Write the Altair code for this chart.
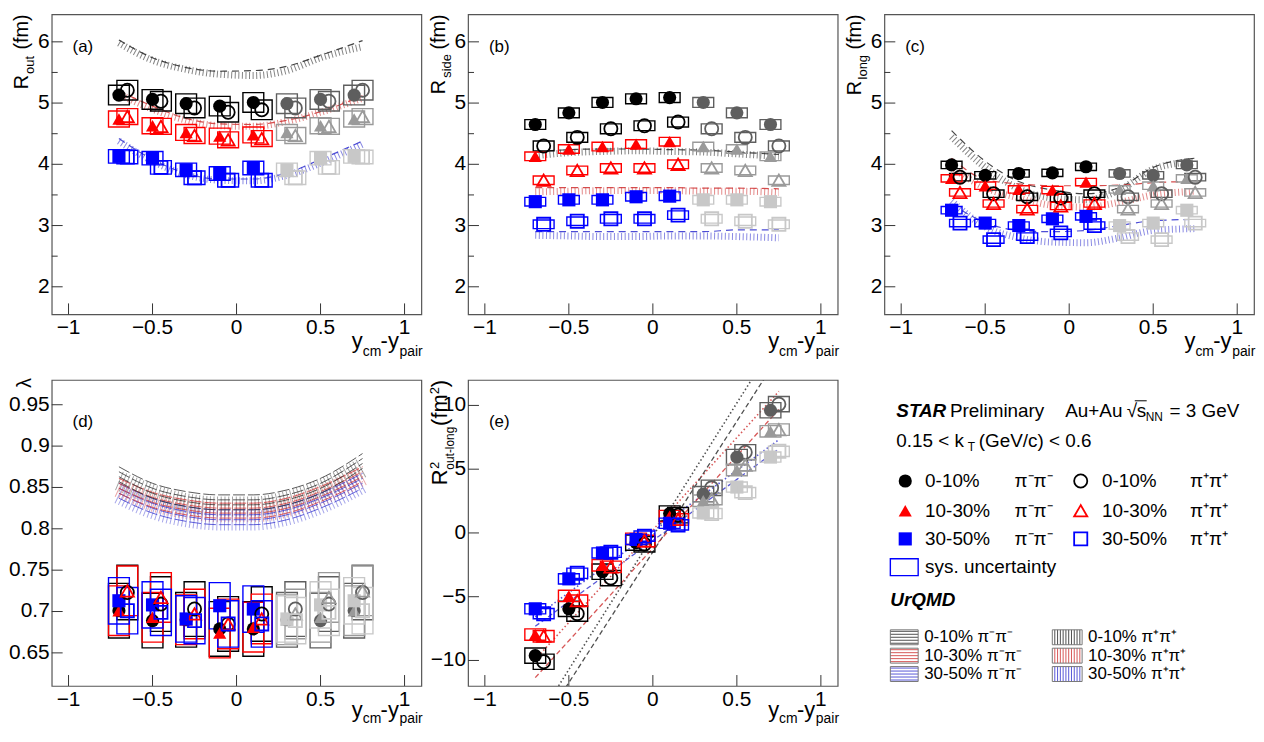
import altair as alt
import pandas as pd

FONT = "Liberation Sans"

# ---------------- rapidity bins ----------------
Y_MM = [-0.7, -0.5, -0.3, -0.1, 0.1, 0.3, 0.5, 0.7]          # pi-pi-
Y_PP = [-0.65, -0.45, -0.25, -0.05, 0.15, 0.35, 0.55, 0.75]  # pi+pi+
N_MEASURED = 5                                                 # the last 3 bins are reflected (grey)
Y_UQ = [-0.7, -0.5, -0.3, -0.1, 0.1, 0.3, 0.5, 0.75]          # UrQMD grid

CENT_LABELS = ["0-10%", "10-30%", "30-50%"]

# axis ticks and labels
X_TICKS = [-1, -0.5, 0, 0.5, 1]
X_TICK_LABELS = ["\u22121", "\u22120.5", "0", "0.5", "1"]
R_TICKS = [2, 3, 4, 5, 6]
R_TICK_LABELS = ["2", "3", "4", "5", "6"]
R_MINOR = [2.5, 3.5, 4.5, 5.5]
LAM_TICKS = [0.65, 0.7, 0.75, 0.8, 0.85, 0.9, 0.95]
LAM_TICK_LABELS = ["0.65", "0.7", "0.75", "0.8", "0.85", "0.9", "0.95"]
ROL_TICKS = [-10, -5, 0, 5, 10]
ROL_TICK_LABELS = ["\u221210", "\u22125", "0", "5", "10"]

# ---------------- (a) R_out ----------------
ROUT_MM_0010 = [5.13, 5.06, 4.99, 4.95, 5.01, 4.99, 5.06, 5.13]
ROUT_PP_0010 = [5.21, 5.03, 4.92, 4.85, 4.89, 4.92, 5.03, 5.21]
ROUT_MM_1030 = [4.74, 4.63, 4.52, 4.46, 4.48, 4.52, 4.63, 4.74]
ROUT_PP_1030 = [4.78, 4.62, 4.47, 4.40, 4.42, 4.47, 4.62, 4.78]
ROUT_MM_3050 = [4.13, 4.10, 3.91, 3.85, 3.94, 3.91, 4.10, 4.13]
ROUT_PP_3050 = [4.12, 3.95, 3.78, 3.74, 3.74, 3.78, 3.95, 4.12]
SYS_ROUT = [0.16, 0.13, 0.11]
UQ_ROUT_MM_0010 = [6.03, 5.74, 5.58, 5.52, 5.53, 5.60, 5.78, 6.02]
UQ_ROUT_PP_0010 = [5.98, 5.70, 5.55, 5.47, 5.45, 5.53, 5.74, 5.92]
UQ_ROUT_MM_1030 = [5.20, 4.95, 4.75, 4.66, 4.65, 4.72, 4.86, 5.12]
UQ_ROUT_PP_1030 = [5.15, 4.90, 4.72, 4.63, 4.62, 4.70, 4.85, 5.08]
UQ_ROUT_MM_3050 = [4.42, 4.08, 3.85, 3.76, 3.76, 3.86, 4.08, 4.38]
UQ_ROUT_PP_3050 = [4.38, 4.05, 3.83, 3.74, 3.73, 3.82, 4.02, 4.33]

# ---------------- (b) R_side ----------------
RSIDE_MM_0010 = [4.65, 4.84, 5.01, 5.07, 5.09, 5.01, 4.84, 4.65]
RSIDE_PP_0010 = [4.30, 4.44, 4.58, 4.63, 4.69, 4.58, 4.44, 4.30]
RSIDE_MM_1030 = [4.13, 4.25, 4.29, 4.33, 4.37, 4.29, 4.25, 4.13]
RSIDE_PP_1030 = [3.74, 3.90, 3.94, 3.94, 4.00, 3.94, 3.90, 3.74]
RSIDE_MM_3050 = [3.39, 3.42, 3.42, 3.47, 3.48, 3.42, 3.42, 3.39]
RSIDE_PP_3050 = [3.02, 3.07, 3.11, 3.11, 3.17, 3.11, 3.07, 3.02]
SYS_RSIDE = [0.08, 0.07, 0.07]
UQ_RSIDE_MM_0010 = [4.20, 4.24, 4.25, 4.25, 4.24, 4.23, 4.20, 4.16]
UQ_RSIDE_PP_0010 = [4.14, 4.19, 4.21, 4.22, 4.21, 4.20, 4.17, 4.13]
UQ_RSIDE_MM_1030 = [3.62, 3.62, 3.62, 3.62, 3.62, 3.61, 3.61, 3.60]
UQ_RSIDE_PP_1030 = [3.55, 3.56, 3.57, 3.57, 3.57, 3.56, 3.56, 3.54]
UQ_RSIDE_MM_3050 = [2.90, 2.90, 2.90, 2.90, 2.90, 2.90, 2.93, 2.93]
UQ_RSIDE_PP_3050 = [2.84, 2.83, 2.82, 2.82, 2.83, 2.83, 2.82, 2.80]

# ---------------- (c) R_long ----------------
RLONG_MM_0010 = [3.99, 3.82, 3.85, 3.86, 3.96, 3.85, 3.82, 3.99]
RLONG_PP_0010 = [3.79, 3.52, 3.47, 3.45, 3.52, 3.47, 3.52, 3.79]
RLONG_MM_1030 = [3.77, 3.65, 3.59, 3.58, 3.71, 3.59, 3.65, 3.77]
RLONG_PP_1030 = [3.54, 3.36, 3.27, 3.32, 3.36, 3.27, 3.36, 3.54]
RLONG_MM_3050 = [3.25, 3.04, 3.00, 3.11, 3.15, 3.00, 3.04, 3.25]
RLONG_PP_3050 = [3.04, 2.77, 2.82, 2.88, 3.00, 2.82, 2.77, 3.04]
SYS_RLONG = [0.06, 0.06, 0.06]
UQ_RLONG_MM_0010 = [4.55, 4.05, 3.72, 3.58, 3.52, 3.62, 3.95, 4.10]
UQ_RLONG_PP_0010 = [4.45, 3.95, 3.60, 3.45, 3.42, 3.58, 3.92, 4.05]
UQ_RLONG_MM_1030 = [4.10, 3.75, 3.68, 3.65, 3.65, 3.66, 3.70, 3.72]
UQ_RLONG_PP_1030 = [3.95, 3.62, 3.45, 3.33, 3.30, 3.38, 3.50, 3.56]
UQ_RLONG_MM_3050 = [3.35, 3.05, 2.92, 2.90, 2.92, 3.00, 3.08, 3.10]
UQ_RLONG_PP_3050 = [3.40, 2.98, 2.80, 2.73, 2.72, 2.80, 2.92, 2.95]

# ---------------- (d) lambda ----------------
LAM_MM_0010 = [0.701, 0.689, 0.690, 0.679, 0.679, 0.690, 0.689, 0.701]
LAM_PP_0010 = [0.723, 0.709, 0.703, 0.685, 0.697, 0.703, 0.709, 0.723]
LAM_MM_1030 = [0.701, 0.693, 0.690, 0.674, 0.681, 0.690, 0.693, 0.701]
LAM_PP_1030 = [0.725, 0.717, 0.697, 0.685, 0.691, 0.697, 0.717, 0.725]
LAM_MM_3050 = [0.713, 0.708, 0.691, 0.707, 0.703, 0.691, 0.708, 0.713]
LAM_PP_3050 = [0.701, 0.699, 0.689, 0.685, 0.685, 0.689, 0.699, 0.701]
SYS_LAM = [0.033, 0.030, 0.028]
UQ_LAM_MM_0010 = [0.866, 0.846, 0.836, 0.832, 0.832, 0.838, 0.852, 0.882]
UQ_LAM_PP_0010 = [0.858, 0.842, 0.831, 0.827, 0.827, 0.834, 0.848, 0.874]
UQ_LAM_MM_1030 = [0.852, 0.835, 0.826, 0.822, 0.822, 0.828, 0.842, 0.866]
UQ_LAM_PP_1030 = [0.850, 0.833, 0.824, 0.820, 0.820, 0.826, 0.840, 0.864]
UQ_LAM_MM_3050 = [0.846, 0.828, 0.818, 0.814, 0.814, 0.820, 0.834, 0.858]
UQ_LAM_PP_3050 = [0.842, 0.824, 0.814, 0.810, 0.810, 0.816, 0.830, 0.855]

# ---------------- (e) R^2_out-long ----------------
ROL_MM_0010 = [-9.62, -5.95, -3.04, -0.76, 1.52, 3.04, 5.95, 9.62]
ROL_PP_0010 = [-10.1, -6.33, -3.54, -0.89, 1.39, 3.54, 6.33, 10.1]
ROL_MM_1030 = [-7.97, -4.94, -2.53, -0.46, 1.32, 2.53, 4.94, 7.97]
ROL_PP_1030 = [-8.10, -5.32, -2.66, -0.63, 1.06, 2.66, 5.32, 8.10]
ROL_MM_3050 = [-5.95, -3.60, -1.57, -0.51, 0.76, 1.57, 3.60, 5.95]
ROL_PP_3050 = [-6.33, -3.16, -1.52, -0.25, 0.63, 1.52, 3.16, 6.40]
SYS_ROL = [0.60, 0.45, 0.40]
UQ_ROL_MM_0010 = [-15.84, -11.74, -7.64, -3.54, 0.56, 4.66, 8.76, 13.89]
UQ_ROL_PP_0010 = [-14.89, -10.71, -6.53, -2.35, 1.83, 6.01, 10.19, 15.42]
UQ_ROL_MM_1030 = [-11.35, -8.45, -5.55, -2.65, 0.25, 3.15, 6.05, 9.68]
UQ_ROL_PP_1030 = [-9.92, -7.02, -4.12, -1.22, 1.68, 4.58, 7.48, 11.10]
UQ_ROL_MM_3050 = [-7.32, -5.40, -3.48, -1.56, 0.36, 2.28, 4.20, 6.60]
UQ_ROL_PP_3050 = [-6.59, -4.67, -2.75, -0.84, 1.08, 2.99, 4.91, 7.31]

# ---------------- styling ----------------
COL = ["#000000", "#ff0000", "#0000ff"]
GREY = ["#5e5e5e", "#9a9a9a", "#c8c8c8"]
UQCOL = ["#303030", "#d03a3a", "#3a3ad0"]
SHAPES = ["circle", "triangle-up", "square"]

PW = 372
H_TOP = 302
H_BOT = 308
MSIZE = 175
LABEL_FS = 21


def txt(s, x, y, size, angle=0, align="left", baseline="alphabetic",
        weight="normal", style="normal", color="black"):
    kw = dict(align=align, baseline=baseline, fontSize=size, font=FONT,
              fontWeight=weight, fontStyle=style, color=color)
    if angle:
        kw["angle"] = angle
    return alt.Chart(pd.DataFrame({"t": [s]})).mark_text(**kw).encode(
        x=alt.value(x), y=alt.value(y), text="t:N")


def points_df(mm, pp, sys, bw=0.062):
    rows = []
    for ci in range(3):
        for charge, xs, vals in (("mm", Y_MM, mm[ci]), ("pp", Y_PP, pp[ci])):
            for k, (x, v) in enumerate(zip(xs, vals)):
                col = COL[ci] if k < N_MEASURED else GREY[ci]
                rows.append(dict(x=x, v=v, lo=v - sys[ci], hi=v + sys[ci],
                                 xl=x - bw, xr=x + bw, col=col,
                                 shape=SHAPES[ci], charge=charge))
    return pd.DataFrame(rows)


def uq_df(mm, pp):
    rows = []
    for ci in range(3):
        for x, v in zip(Y_UQ, mm[ci]):
            rows.append(dict(x=x, v=v, cent=ci, col=UQCOL[ci], charge="mm"))
        for x, v in zip(Y_UQ, pp[ci]):
            rows.append(dict(x=x, v=v, cent=ci, col=UQCOL[ci], charge="pp"))
    return pd.DataFrame(rows)


def panel(mm, pp, sys, uq_mm, uq_pp, ydom, yticks, ylabels, yminor, H, uq_style,
          label, row, ytitle):
    W = PW
    xs = alt.Scale(domain=[-1.1, 1.1], nice=False, zero=False)
    ys = alt.Scale(domain=ydom, nice=False, zero=False)
    X = lambda f: alt.X(f, type="quantitative", scale=xs, axis=None)
    Y = lambda f: alt.Y(f, type="quantitative", scale=ys, axis=None)
    layers = []
    df = points_df(mm, pp, sys)

    uq = uq_df(uq_mm, uq_pp)
    um = uq[uq.charge == "mm"]
    up = uq[uq.charge == "pp"]
    enc = dict(x=X("x"), y=Y("v"), color=alt.Color("col:N", scale=None), detail="cent:N")
    if uq_style == "curve":
        layers.append(alt.Chart(up).mark_line(strokeDash=[1, 2.6], strokeWidth=7,
                      interpolate="monotone", opacity=0.6).encode(**enc))
        layers.append(alt.Chart(um).mark_line(strokeDash=[7, 5], strokeWidth=1.2,
                      interpolate="monotone", opacity=0.9).encode(**enc))
    elif uq_style == "band":
        layers.append(alt.Chart(up).mark_line(strokeDash=[1, 2.8], strokeWidth=20,
                      interpolate="monotone", opacity=0.45).encode(**enc))
        for off in (-7.5, -2.5, 2.5, 7.5):
            layers.append(alt.Chart(um).mark_line(strokeDash=[12, 3], strokeWidth=1,
                          interpolate="monotone", opacity=0.8,
                          yOffset=off).encode(**enc))
    else:
        layers.append(alt.Chart(up).mark_line(strokeDash=[1.5, 2.5], strokeWidth=1.6,
                      clip=True, opacity=0.85).encode(**enc))
        layers.append(alt.Chart(um).mark_line(strokeDash=[5, 3], strokeWidth=1.3,
                      clip=True, opacity=0.85).encode(**enc))

    layers.append(alt.Chart(df).mark_rect(fillOpacity=0, strokeWidth=1.4, clip=True).encode(
        x=X("xl"), x2="xr", y=Y("lo"), y2="hi",
        stroke=alt.Stroke("col:N", scale=None)))

    layers.append(alt.Chart(df[df.charge == "mm"]).mark_point(
        filled=True, size=MSIZE, opacity=1).encode(
        x=X("x"), y=Y("v"),
        shape=alt.Shape("shape:N", scale=None),
        color=alt.Color("col:N", scale=None)))
    layers.append(alt.Chart(df[df.charge == "pp"]).mark_point(
        filled=False, size=MSIZE, strokeWidth=1.8, opacity=1).encode(
        x=X("x"), y=Y("v"),
        shape=alt.Shape("shape:N", scale=None),
        color=alt.Color("col:N", scale=None)))

    # inward ROOT-style ticks
    layers.append(alt.Chart(pd.DataFrame({"t": yticks})).mark_rule(
        color="#333333", strokeWidth=1).encode(
        x=alt.value(0), x2=alt.value(11), y=Y("t")))
    if yminor:
        layers.append(alt.Chart(pd.DataFrame({"t": yminor})).mark_rule(
            color="#333333", strokeWidth=1).encode(
            x=alt.value(0), x2=alt.value(6), y=Y("t")))
    layers.append(alt.Chart(pd.DataFrame({"t": X_TICKS})).mark_rule(
        color="#333333", strokeWidth=1).encode(
        x=X("t"), y=alt.value(H), y2=alt.value(H - 11)))

    # tick labels
    layers.append(alt.Chart(pd.DataFrame({"t": X_TICKS, "lab": X_TICK_LABELS})).mark_text(
        align="center", baseline="top", fontSize=LABEL_FS, font=FONT, color="black").encode(
        x=X("t"), y=alt.value(H + 3), text="lab:N"))
    layers.append(alt.Chart(pd.DataFrame({"t": yticks, "lab": ylabels})).mark_text(
        align="right", baseline="middle", fontSize=LABEL_FS, font=FONT, color="black").encode(
        x=alt.value(-2), y=Y("t"), text="lab:N"))

    # panel label
    layers.append(txt(label, 21, 37.5 if row == "top" else 47, 17))
    # x title  y_cm - y_pair
    mb = H + (34 if row == "top" else 31)
    sb = H + (42 if row == "top" else 37)
    layers.append(txt("y", W - 70, mb, 22))
    layers.append(txt("cm", W - 59, sb, 14))
    layers.append(txt("-y", W - 41, mb, 22))
    layers.append(txt("pair", W - 22, sb, 14))
    # y title pieces (rotated)
    for s, fs, xb, ya in ytitle:
        layers.append(txt(s, xb, ya, fs, angle=270, align="right"))

    return alt.layer(*layers).properties(width=W, height=H)


def legend_panel():
    L = []
    L.append(txt("STAR", 12, 37, 19, weight="bold", style="italic"))
    L.append(txt("Preliminary", 66, 37, 19))
    L.append(txt("Au+Au", 182, 37, 19))
    L.append(txt("\u221a", 244, 37, 19))
    L.append(txt("s", 254, 37, 19))
    L.append(txt("NN", 263, 41, 12))
    L.append(txt("= 3 GeV", 287, 37, 19))
    L.append(alt.Chart(pd.DataFrame({"a": [0]})).mark_rule(color="black", strokeWidth=1).encode(
        x=alt.value(252), x2=alt.value(264), y=alt.value(21), y2=alt.value(21)))
    L.append(txt("0.15 < k", 12, 68, 19))
    L.append(txt("T", 84, 72, 12))
    L.append(txt("(GeV/c) < 0.6", 95, 68, 19))

    ycs = [101.7, 131.7, 160.0]
    for r in range(3):
        yc = ycs[r]
        L.append(alt.Chart(pd.DataFrame({"a": [0]})).mark_point(
            filled=True, shape=SHAPES[r], size=MSIZE, opacity=1, color=COL[r]).encode(
            x=alt.value(21), y=alt.value(yc)))
        L.append(txt(CENT_LABELS[r], 41, yc, 19, baseline="middle"))
        L.append(txt("\u03c0\u207b\u03c0\u207b", 131, yc, 19, baseline="middle"))
        L.append(alt.Chart(pd.DataFrame({"a": [0]})).mark_point(
            filled=False, shape=SHAPES[r], size=MSIZE, strokeWidth=1.8, opacity=1,
            color=COL[r]).encode(x=alt.value(197.6), y=alt.value(yc)))
        L.append(txt(CENT_LABELS[r], 219, yc, 19, baseline="middle"))
        L.append(txt("\u03c0\u207a\u03c0\u207a", 307.6, yc, 19, baseline="middle"))

    L.append(alt.Chart(pd.DataFrame({"a": [0]})).mark_rect(
        fillOpacity=0, stroke="#0000ff", strokeWidth=1.4).encode(
        x=alt.value(6), x2=alt.value(34), y=alt.value(180), y2=alt.value(197)))
    L.append(txt("sys. uncertainty", 41, 188.5, 19, baseline="middle"))
    L.append(txt("UrQMD", 6, 221.7, 19, weight="bold", style="italic", baseline="middle"))

    uq_rows = [259.0, 277.5, 296.0]
    seg = []
    box = []
    for r in range(3):
        yc = uq_rows[r]
        box.append(dict(x1=6, x2=34, y1=yc - 7.5, y2=yc + 7.5))
        box.append(dict(x1=169, x2=199, y1=yc - 7.5, y2=yc + 7.5))
        for k in range(5):
            yy = yc - 6 + 3 * k
            seg.append(dict(x1=6, x2=34, y1=yy, y2=yy, col=UQCOL[r]))
        for k in range(10):
            xx = 171.5 + 2.8 * k
            seg.append(dict(x1=xx, x2=xx, y1=yc - 7.5, y2=yc + 7.5, col=UQCOL[r]))
        L.append(txt(CENT_LABELS[r] + " \u03c0\u207b\u03c0\u207b", 40, yc, 17, baseline="middle"))
        L.append(txt(CENT_LABELS[r] + " \u03c0\u207a\u03c0\u207a", 205, yc, 17, baseline="middle"))
    L.append(alt.Chart(pd.DataFrame(seg)).mark_rule(strokeWidth=1, opacity=0.85).encode(
        x=alt.X("x1:Q", scale=None, axis=None), x2="x2:Q",
        y=alt.Y("y1:Q", scale=None, axis=None), y2="y2:Q",
        color=alt.Color("col:N", scale=None)))
    L.append(alt.Chart(pd.DataFrame(box)).mark_rect(
        fillOpacity=0, stroke="#777777", strokeWidth=1).encode(
        x=alt.X("x1:Q", scale=None, axis=None), x2="x2:Q",
        y=alt.Y("y1:Q", scale=None, axis=None), y2="y2:Q"))
    return alt.layer(*L).properties(width=PW, height=H_BOT,
                                    view=alt.ViewBackground(stroke="transparent"))


RDOM = [1.55, 6.45]

pa = panel([ROUT_MM_0010, ROUT_MM_1030, ROUT_MM_3050],
           [ROUT_PP_0010, ROUT_PP_1030, ROUT_PP_3050], SYS_ROUT,
           [UQ_ROUT_MM_0010, UQ_ROUT_MM_1030, UQ_ROUT_MM_3050],
           [UQ_ROUT_PP_0010, UQ_ROUT_PP_1030, UQ_ROUT_PP_3050],
           RDOM, R_TICKS, R_TICK_LABELS, R_MINOR, H_TOP, "curve", "(a)", "top",
           [("(fm)", 20, -23.7, 0), ("out", 13, -17.5, 42), ("R", 20, -23.7, 61)])
pb = panel([RSIDE_MM_0010, RSIDE_MM_1030, RSIDE_MM_3050],
           [RSIDE_PP_0010, RSIDE_PP_1030, RSIDE_PP_3050], SYS_RSIDE,
           [UQ_RSIDE_MM_0010, UQ_RSIDE_MM_1030, UQ_RSIDE_MM_3050],
           [UQ_RSIDE_PP_0010, UQ_RSIDE_PP_1030, UQ_RSIDE_PP_3050],
           RDOM, R_TICKS, R_TICK_LABELS, R_MINOR, H_TOP, "curve", "(b)", "top",
           [("(fm)", 20, -23.7, 0), ("side", 13, -17.5, 40), ("R", 20, -23.7, 66)])
pc = panel([RLONG_MM_0010, RLONG_MM_1030, RLONG_MM_3050],
           [RLONG_PP_0010, RLONG_PP_1030, RLONG_PP_3050], SYS_RLONG,
           [UQ_RLONG_MM_0010, UQ_RLONG_MM_1030, UQ_RLONG_MM_3050],
           [UQ_RLONG_PP_0010, UQ_RLONG_PP_1030, UQ_RLONG_PP_3050],
           RDOM, R_TICKS, R_TICK_LABELS, R_MINOR, H_TOP, "curve", "(c)", "top",
           [("(fm)", 20, -23.7, 0), ("long", 13, -17.5, 41), ("R", 20, -23.7, 67)])
pd_ = panel([LAM_MM_0010, LAM_MM_1030, LAM_MM_3050],
            [LAM_PP_0010, LAM_PP_1030, LAM_PP_3050], SYS_LAM,
            [UQ_LAM_MM_0010, UQ_LAM_MM_1030, UQ_LAM_MM_3050],
            [UQ_LAM_PP_0010, UQ_LAM_PP_1030, UQ_LAM_PP_3050],
            [0.61, 0.98], LAM_TICKS, LAM_TICK_LABELS, [], H_BOT,
            "band", "(d)", "bot",
            [("\u03bb", 20, -20.7, -2)])
pe = panel([ROL_MM_0010, ROL_MM_1030, ROL_MM_3050],
           [ROL_PP_0010, ROL_PP_1030, ROL_PP_3050], SYS_ROL,
           [UQ_ROL_MM_0010, UQ_ROL_MM_1030, UQ_ROL_MM_3050],
           [UQ_ROL_PP_0010, UQ_ROL_PP_1030, UQ_ROL_PP_3050],
           [-12, 12], ROL_TICKS, ROL_TICK_LABELS, [], H_BOT, "straight", "(e)", "bot",
           [(")", 22, -20.7, 0), ("2", 13, -29, 7.3), ("(fm", 22, -20.7, 14.5),
            ("out-long", 12, -14, 47), ("2", 13, -29, 82.5), ("R", 22, -20.7, 90)])
pl = legend_panel()

chart = alt.concat(pa, pb, pc, pd_, pe, pl, columns=3,
                   spacing={"row": 66, "column": 47},
                   bounds="flush", align="each").properties(
    padding={"left": 0, "top": 3, "right": 0, "bottom": 0}
).configure_view(stroke="#555555", strokeWidth=1.2)

chart.save("out.html", embed_options={"renderer": "svg", "actions": False})
